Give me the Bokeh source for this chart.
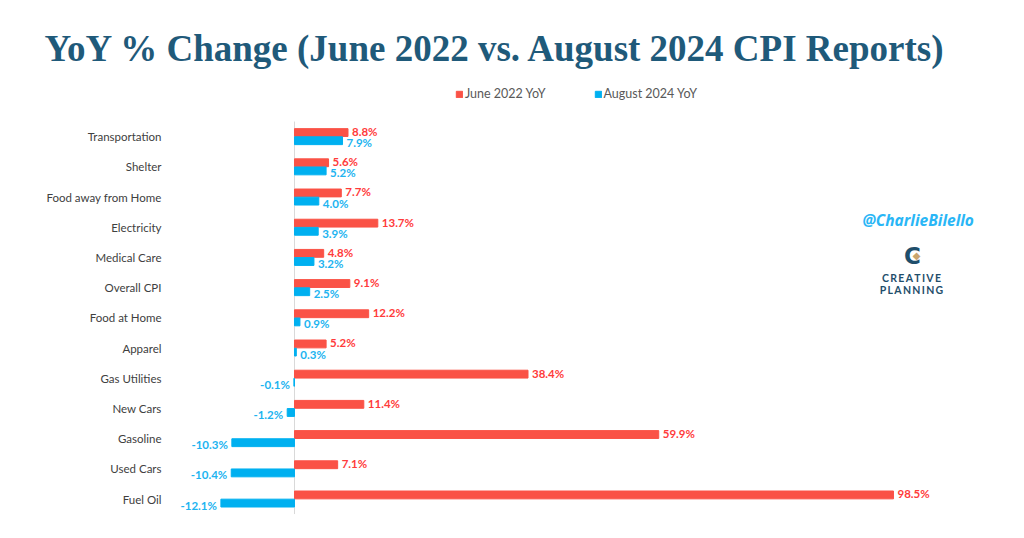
from bokeh.plotting import figure
from bokeh.models import (ColumnDataSource, Range1d, FixedTicker, Label, Legend,
                          LegendItem)
from bokeh.transform import dodge
from bokeh.core.properties import value
from bokeh.embed import file_html
from bokeh.resources import INLINE

categories = ["Transportation", "Shelter", "Food away from Home", "Electricity",
              "Medical Care", "Overall CPI", "Food at Home", "Apparel",
              "Gas Utilities", "New Cars", "Gasoline", "Used Cars", "Fuel Oil"]
june_2022 = [8.8, 5.6, 7.7, 13.7, 4.8, 9.1, 12.2, 5.2, 38.4, 11.4, 59.9, 7.1, 98.5]
aug_2024 = [7.9, 5.2, 4.0, 3.9, 3.2, 2.5, 0.9, 0.3, -0.1, -1.2, -10.3, -10.4, -12.1]

RED = "#FA5246"
BLUE = "#00B0F0"
NAVY = "#1F5A7A"

# first category at the top
ypos = [len(categories) - 1 - i for i in range(len(categories))]

src = ColumnDataSource(dict(
    y=ypos,
    june=june_2022,
    aug=aug_2024,
    june_txt=[f"{v:.1f}%" for v in june_2022],
    aug_txt=[f"{v:.1f}%" for v in aug_2024],
    aug_align=["left" if v >= 0 else "right" for v in aug_2024],
    aug_off=[4 if v >= 0 else -4 for v in aug_2024],
))

p = figure(width=1016, height=530, y_range=Range1d(-0.513, 14.19),
           x_range=(-20.06, 116.1), output_backend="svg", toolbar_location=None,
           title="YoY % Change (June 2022 vs. August 2024 CPI Reports)")
p.min_border_left = 172
p.min_border_right = 16
p.min_border_top = 70
p.min_border_bottom = 16
p.outline_line_color = None
p.xgrid.visible = False
p.ygrid.visible = False
p.xaxis.visible = False
p.yaxis.ticker = FixedTicker(ticks=ypos)
p.yaxis.major_label_overrides = {y: c for y, c in zip(ypos, categories)}
p.yaxis.axis_line_color = None
p.yaxis.major_tick_line_color = None
p.yaxis.minor_tick_line_color = None
p.yaxis.major_label_text_font = "Lato"
p.yaxis.major_label_text_font_size = "11.5px"
p.yaxis.major_label_text_color = "#404040"
p.yaxis.major_label_standoff = 5

p.title.align = "left"
p.title.offset = -128
p.title.text_font = "Liberation Serif"
p.title.text_font_style = "bold"
p.title.text_font_size = "37px"
p.title.text_color = NAVY
p.title.standoff = 4

# zero line
p.segment(x0=0, x1=0, y0=-0.5, y1=len(categories) - 0.5, line_color="#D9D9D9",
          line_width=1)

r_june = p.hbar(y=dodge("y", 0.135), left=0, right="june",
                height=0.26, color=RED, source=src)
r_aug = p.hbar(y=dodge("y", -0.135), left=0, right="aug",
               height=0.26, color=BLUE, source=src)

p.text(x="june", y=dodge("y", 0.135), text="june_txt",
       x_offset=4, y_offset=-1, text_align="left", text_baseline="middle",
       text_font=value("Lato"), text_font_style="bold", text_font_size="11.5px",
       text_color="#FF3B3B", source=src)
p.text(x="aug", y=dodge("y", -0.135), text="aug_txt",
       x_offset="aug_off", y_offset=2, text_align="aug_align", text_baseline="middle",
       text_font=value("Lato"), text_font_style="bold", text_font_size="11.5px",
       text_color="#1DB4F0", source=src)

legend = Legend(items=[LegendItem(label="June 2022 YoY", renderers=[r_june]),
                       LegendItem(label="August 2024 YoY", renderers=[r_aug])],
                orientation="horizontal", location=(283, 413),
                glyph_width=8, glyph_height=8, label_height=12, label_standoff=2,
                spacing=48, padding=0, margin=0, border_line_alpha=0,
                background_fill_alpha=0, label_text_font="Lato",
                label_text_font_size="12.5px", label_text_color="#595959")
p.add_layout(legend)

p.add_layout(Label(x=690, y=295, x_units="screen", y_units="screen",
                   text="@CharlieBilello", text_font="Open Sans",
                   text_font_style="bold italic", text_font_size="15.5px",
                   text_color="#29B6F6", text_baseline="middle"))

p.add_layout(Label(x=740, y=259, x_units="screen", y_units="screen", text="C",
                   text_font="DejaVu Sans", text_font_style="bold",
                   text_font_size="23px", text_color="#1F4E6B",
                   text_align="center", text_baseline="middle"))
p.add_layout(Label(x=744, y=259, x_units="screen", y_units="screen", text="\u25c6",
                   text_font="DejaVu Sans", text_font_size="10px",
                   text_color="#C9A56E", text_align="center", text_baseline="middle"))
p.add_layout(Label(x=739, y=237, x_units="screen", y_units="screen",
                   text="C\u2009R\u2009E\u2009A\u2009T\u2009I\u2009V\u2009E",
                   text_font="Lato", text_font_style="bold", text_font_size="10.5px",
                   text_color="#1F4E6B", text_align="center", text_baseline="middle"))
p.add_layout(Label(x=739, y=225, x_units="screen", y_units="screen",
                   text="P\u2009L\u2009A\u2009N\u2009N\u2009I\u2009N\u2009G",
                   text_font="Lato", text_font_style="bold", text_font_size="10.5px",
                   text_color="#1F4E6B", text_align="center", text_baseline="middle"))

open("out.html", "w").write(file_html(p, INLINE))
